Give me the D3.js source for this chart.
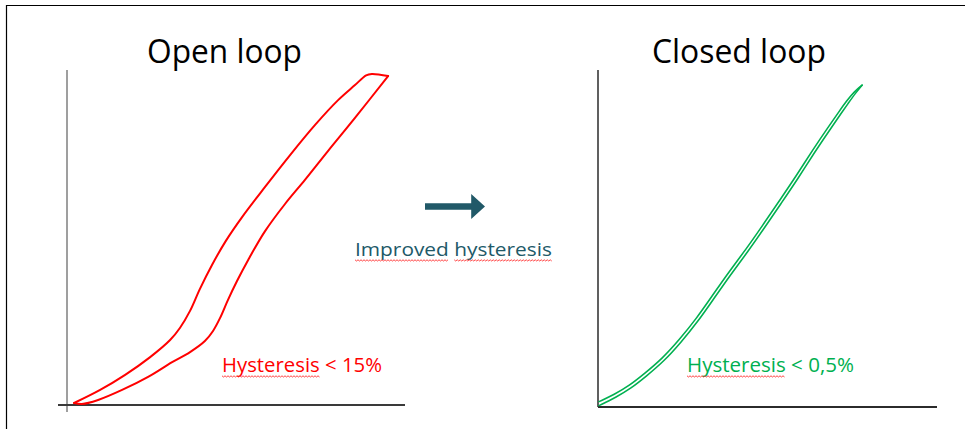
<!DOCTYPE html>
<html>
<head>
  <meta charset="utf-8">
  <title>Open loop vs closed loop hysteresis</title>
  <style>
    body { margin: 0; background: #fff; }
    text { font-family: "Open Sans", "Noto Sans", sans-serif; }
    .frame { stroke: #000; stroke-width: 1.2; fill: none; }
    .loop { fill: none; stroke-linejoin: round; stroke-linecap: round; }
    .squiggle { fill: none; stroke: #ff3030; stroke-width: 0.9; }
  </style>
</head>
<body>
  <script src="https://cdn.jsdelivr.net/npm/d3@7/dist/d3.min.js"></script>
  <script>
    // values, in % of the axis length
    const titles = ["Open loop", "Closed loop"];
    const notes = ["Hysteresis < 15%", "Hysteresis < 0,5%"];
    const midLabel = "Improved hysteresis";

    // open loop: rising branch and falling branch
    const openUp = [[2.1, 0.6], [9.8, 4.5], [17.2, 9.0], [24.6, 14.3], [30.5, 19.4], [33.4, 23.0],
      [36.4, 28.1], [39.3, 34.6], [42.9, 41.8], [47.0, 49.0], [51.8, 56.1], [58.6, 65.1],
      [66.0, 74.6], [73.4, 83.6], [80.2, 91.0], [85.2, 95.5], [88.5, 98.4], [90.2, 98.8], [95.0, 98.2]];
    const openDown = [[95.0, 98.2], [85.2, 85.7], [77.2, 75.8], [70.4, 67.2], [64.5, 60.0], [58.6, 51.9],
      [53.6, 43.3], [50.3, 37.0], [47.6, 31.3], [45.3, 26.0], [43.2, 22.1], [40.8, 19.1],
      [36.4, 15.8], [31.1, 12.8], [24.0, 8.4], [16.3, 4.5], [9.2, 1.5], [4.4, 0.3], [2.1, 0.6]];

    // closed loop: the two branches almost on top of each other (both listed left to right)
    const closedUp = [[0.3, 1.6], [4.8, 3.7], [9.2, 6.3], [13.7, 9.9], [19.0, 14.4], [24.0, 20.0],
      [29.0, 26.2], [33.7, 33.0], [38.7, 40.2], [43.8, 47.0], [48.5, 53.8], [53.5, 61.2],
      [58.5, 68.6], [63.2, 76.1], [68.2, 83.5], [71.2, 87.8], [73.3, 90.8], [75.7, 93.7], [77.9, 95.5]];
    const closedDown = [[0.3, 0.4], [5.3, 2.9], [9.7, 5.5], [14.2, 9.1], [19.5, 13.6], [24.5, 19.2],
      [29.5, 25.4], [34.2, 32.2], [39.2, 39.4], [44.3, 46.2], [49.0, 53.0], [54.0, 60.4],
      [59.0, 67.8], [63.7, 75.3], [68.7, 82.7], [71.7, 87.1], [73.8, 90.1], [76.0, 93.2], [77.9, 95.5]];

    const W = 965, H = 429;
    const svg = d3.select("body").append("svg")
      .attr("width", W)
      .attr("height", H);

    // slide frame (top and left edge visible)
    svg.append("path")
      .attr("class", "frame")
      .attr("d", "M6.5," + H + "V5.5H" + W);

    const panels = [
      { left: 67, right: 405, top: 70, bottom: 405, yOver: 7, xOver: 9, yColor: "#7f7f7f", xColor: "#3a3a3a",
        color: "#ff0000", width: 2, curve: d3.curveCatmullRom.alpha(0.5), branches: [openUp, openDown],
        title: titles[0], titleX: 147, titleW: 155, note: notes[0], noteX: 222, noteW: 160 },
      { left: 598, right: 937, top: 70, bottom: 407, yOver: 0, xOver: 0, yColor: "#2b2b2b", xColor: "#2b2b2b",
        color: "#00b050", width: 1.6, curve: d3.curveBasis, branches: [closedUp, closedDown],
        title: titles[1], titleX: 652, titleW: 174, note: notes[1], noteX: 687, noteW: 167 }
    ];

    // squiggly spell-check underline
    const squiggle = (x0, x1, y0) => {
      const pts = [];
      for (let xx = x0, k = 0; xx <= x1; xx += 1.5, k++) pts.push([xx, y0 + (k % 2 ? 1 : -0.2)]);
      return d3.line()(pts);
    };

    // fits text to a measured width and returns its horizontal scale
    const fitText = (g, str, x0, y0, size, width, color) => {
      const t = g.append("text")
        .attr("font-size", size)
        .attr("fill", color)
        .text(str);
      const sx = width / t.node().getComputedTextLength();
      t.attr("transform", "translate(" + x0 + "," + y0 + ") scale(" + sx + ",1)");
      return { node: t.node(), sx: sx };
    };

    panels.forEach(p => {
      const x = d3.scaleLinear().domain([0, 100]).range([p.left, p.right]);
      const y = d3.scaleLinear().domain([0, 100]).range([p.bottom, p.top]);
      const g = svg.append("g");

      g.append("line")
        .attr("x1", x(0)).attr("x2", x(0))
        .attr("y1", y(100)).attr("y2", y(0) + p.yOver)
        .attr("stroke", p.yColor).attr("stroke-width", 1.5);
      g.append("line")
        .attr("x1", x(0) - p.xOver).attr("x2", x(100))
        .attr("y1", y(0)).attr("y2", y(0))
        .attr("stroke", p.xColor).attr("stroke-width", 1.8);

      const line = d3.line()
        .x(d => x(d[0]))
        .y(d => y(d[1]))
        .curve(p.curve);

      g.selectAll(".loop")
        .data(p.branches)
        .enter().append("path")
        .attr("class", "loop")
        .attr("d", line)
        .attr("stroke", p.color)
        .attr("stroke-width", p.width);

      fitText(g, p.title, p.titleX, 63, 32, p.titleW, "#000");

      const n = fitText(g, p.note, p.noteX, 372, 20, p.noteW, p.color);
      const wordW = n.node.getSubStringLength(0, 10) * n.sx;
      g.append("path")
        .attr("class", "squiggle")
        .attr("d", squiggle(p.noteX, p.noteX + wordW, 376));
    });

    // arrow between the panels
    const ax = d3.scaleLinear().domain([0, 1]).range([425, 485]);
    const ay = d3.scaleLinear().domain([-1, 1]).range([219, 194]);
    const arrowPts = [[0, 0.26], [0.77, 0.26], [0.77, 1], [1, 0], [0.77, -1], [0.77, -0.26], [0, -0.26]];
    svg.append("path")
      .attr("d", d3.line().x(d => ax(d[0])).y(d => ay(d[1]))(arrowPts) + "Z")
      .attr("fill", "#215968");

    const m = fitText(svg, midLabel, 355, 256, 18, 197, "#215968");
    const w1 = m.node.getSubStringLength(0, 8) * m.sx;
    const w2 = m.node.getSubStringLength(0, 9) * m.sx;
    svg.append("path").attr("class", "squiggle").attr("d", squiggle(355, 355 + w1, 260));
    svg.append("path").attr("class", "squiggle").attr("d", squiggle(355 + w2, 552, 260));
  </script>
</body>
</html>
